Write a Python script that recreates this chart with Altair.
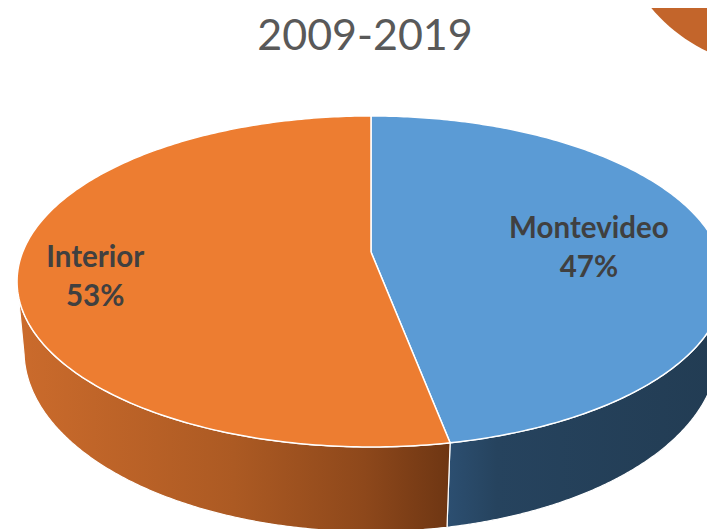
import altair as alt
import numpy as np
import pandas as pd

# ---------------- data ----------------
title_text = "2009-2019"
regions = ["Montevideo", "Interior"]
shares = [47, 53]

# ---------------- styles ----------------
top_colors = {"Montevideo": "#5B9BD5", "Interior": "#ED7D31"}
side_fills = {
    "Montevideo": alt.Gradient(
        gradient="linear", x1=0, x2=1, y1=0, y2=0,
        stops=[alt.GradientStop(offset=0, color="#2C4F71"),
               alt.GradientStop(offset=0.18, color="#26435E"),
               alt.GradientStop(offset=1, color="#223C53")]),
    "Interior": alt.Gradient(
        gradient="linear", x1=0, x2=1, y1=0, y2=0,
        stops=[alt.GradientStop(offset=0, color="#CB6B2C"),
               alt.GradientStop(offset=0.5, color="#AC5A23"),
               alt.GradientStop(offset=0.8, color="#8E481B"),
               alt.GradientStop(offset=1, color="#6E3613")]),
}
label_radius = {"Montevideo": 0.635, "Interior": 0.785}
label_shift = {"Montevideo": -14, "Interior": -6}

# ---------------- view geometry (perspective pie) ----------------
CX = 371.0
TOP = dict(cy0=252.0, A=348.3, B=160.3, e=0.178)
BOT = dict(cy0=322.5, A=342.6, B=176.1, e=0.158)


def proj(phi_deg, g, r=1.0):
    p = np.radians(phi_deg)
    s = 1.0 / (1.0 + g["e"] * r * np.cos(p))
    return CX + g["A"] * r * np.sin(p) * s, g["cy0"] - g["B"] * r * np.cos(p) * s


total = float(sum(shares))
bounds = np.concatenate([[0.0], np.cumsum(shares) / total * 360.0])
phi_r = np.degrees(np.arccos(-TOP["e"]))
phi_l = 360.0 - phi_r

rows = []


def add(shape, xs, ys):
    for i, (x, y) in enumerate(zip(xs, ys)):
        rows.append({"shape": shape, "i": i, "x": float(x), "y": float(y)})


for k, reg in enumerate(regions):
    a0, a1 = bounds[k], bounds[k + 1]
    # top face slice
    ph = np.linspace(a0, a1, 240)
    ax, ay = proj(ph, TOP)
    add("top_" + reg, np.r_[CX, ax, CX], np.r_[TOP["cy0"], ay, TOP["cy0"]])
    # visible side wall
    lo, hi = max(a0, phi_r), min(a1, phi_l)
    if lo < hi:
        ph = np.linspace(lo, hi, 200)
        tx, ty = proj(ph, TOP)
        bx, by = proj(ph[::-1], BOT)
        add("side_" + reg, np.r_[tx, bx, tx[0]], np.r_[ty, by, ty[0]])

# partial pie of a neighbouring chart, cut by the top-right corner
t = np.linspace(0, 360, 160)
add("neighbour", 780 + 168 * np.cos(np.radians(t)), -100 + 168 * np.sin(np.radians(t)))

df = pd.DataFrame(rows)

labels = []
for k, reg in enumerate(regions):
    mid = (bounds[k] + bounds[k + 1]) / 2
    lx, ly = proj(mid, TOP, label_radius[reg])
    labels.append({"x": float(lx), "y": float(ly + label_shift[reg]),
                   "text": f"{reg}\n{shares[k]}%"})
ldf = pd.DataFrame(labels)

# ---------------- chart ----------------
W, H = 699, 521
xs = alt.Scale(domain=[8, 8 + W], nice=False, zero=False)
ys = alt.Scale(domain=[8, 8 + H], nice=False, zero=False, reverse=True)


def poly(shape, fill, stroke_w):
    return (
        alt.Chart(df)
        .transform_filter(alt.datum.shape == shape)
        .mark_line(fill=fill, stroke="white", strokeWidth=stroke_w,
                   strokeJoin="round", clip=True)
        .encode(x=alt.X("x:Q", scale=xs, axis=None),
                y=alt.Y("y:Q", scale=ys, axis=None),
                order="i:Q")
    )


layers = [poly("neighbour", "#C3652B", 0)]
for reg in regions:
    layers.append(poly("side_" + reg, side_fills[reg], 1.2))
for reg in regions:
    layers.append(poly("top_" + reg, top_colors[reg], 1.5))

text = (
    alt.Chart(ldf)
    .mark_text(font="Lato", fontWeight="bold", fontSize=29.5, color="#404040",
               lineBreak="\n", lineHeight=39, align="center", baseline="middle")
    .encode(x=alt.X("x:Q", scale=xs, axis=None),
            y=alt.Y("y:Q", scale=ys, axis=None),
            text="text:N")
)
layers.append(text)

title = (
    alt.Chart(pd.DataFrame({"t": [title_text]}))
    .mark_text(font="Lato", fontSize=43, color="#595959",
               align="center", baseline="alphabetic")
    .encode(text="t:N", x=alt.value(357), y=alt.value(42))
)
layers.append(title)

chart = (
    alt.layer(*layers)
    .properties(width=W, height=H, background="white",
                autosize=alt.AutoSizeParams(type="none"), padding=0)
    .configure_view(strokeWidth=0, stroke="transparent")
)

chart.save("out.html", embed_options={"renderer": "svg", "actions": False})
